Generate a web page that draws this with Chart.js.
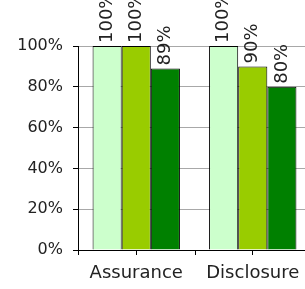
<!DOCTYPE html>
<html>
<head>
<meta charset="utf-8">
<script src="https://cdn.jsdelivr.net/npm/chart.js@4.4.1/dist/chart.umd.min.js"></script>
<style>
  html, body { margin: 0; padding: 0; background: #fff; overflow: hidden; }
  #wrap { width: 311px; height: 289px; }
</style>
</head>
<body>
<div id="wrap"><canvas id="chart" width="311" height="289"></canvas></div>
<script>
const categories = ["Assurance", "Disclosure"];
const seriesNames = ["Series 1", "Series 2", "Series 3"];
const seriesValues = [
  [100, 100],
  [100, 90],
  [89, 80],
];
const seriesColors = ["#CCFFCC", "#99CC00", "#008000"];
const yTicks = [0, 20, 40, 60, 80, 100];

const textColor = "#222";
const gridColor = "#a8a8a8";
const fontFamily = "'DejaVu Sans', sans-serif";

// value labels, rotated, sitting on top of each bar
const barLabels = {
  id: "barLabels",
  afterDatasetsDraw(chart) {
    const ctx = chart.ctx;
    ctx.save();
    ctx.fillStyle = textColor;
    ctx.font = "18px " + fontFamily;
    ctx.textAlign = "left";
    ctx.textBaseline = "middle";
    chart.data.datasets.forEach((ds, i) => {
      chart.getDatasetMeta(i).data.forEach((bar, j) => {
        ctx.save();
        ctx.translate(bar.x, bar.y - 3);
        ctx.rotate(-Math.PI / 2);
        ctx.fillText(ds.data[j] + "%", 0, 0);
        ctx.restore();
      });
    });
    ctx.restore();
  },
};

// tick marks on the category boundaries too (excel style)
const betweenTicks = {
  id: "betweenTicks",
  afterDraw(chart) {
    const x = chart.scales.x;
    const ctx = chart.ctx;
    const half = (x.getPixelForValue(1) - x.getPixelForValue(0)) / 2;
    ctx.save();
    ctx.strokeStyle = "#000";
    ctx.lineWidth = 1;
    for (let i = 0; i <= categories.length; i++) {
      const px = Math.round(x.getPixelForValue(0) - half + i * half * 2) + 0.5;
      ctx.beginPath();
      ctx.moveTo(px, x.top);
      ctx.lineTo(px, x.top + 5);
      ctx.stroke();
    }
    ctx.restore();
  },
};

new Chart(document.getElementById("chart"), {
  type: "bar",
  data: {
    labels: categories,
    datasets: seriesNames.map((name, i) => ({
      label: name,
      data: seriesValues[i],
      backgroundColor: seriesColors[i],
      borderColor: "#000",
      borderWidth: 1,
      categoryPercentage: 0.75,
      barPercentage: 1.0,
    })),
  },
  options: {
    responsive: false,
    animation: false,
    layout: { padding: { top: 46, right: 0, left: 0, bottom: 0 } },
    plugins: {
      legend: { display: false },
      tooltip: { enabled: false },
    },
    scales: {
      x: {
        offset: true,
        afterFit: (s) => { s.height = 39; },
        grid: { offset: false, drawOnChartArea: false, tickLength: 5, tickColor: "#000" },
        border: { color: "#000", width: 1 },
        ticks: { color: textColor, padding: 8, font: { family: fontFamily, size: 18 } },
      },
      y: {
        min: 0,
        max: 100,
        afterFit: (s) => { s.width = 78; },
        afterBuildTicks: (s) => { s.ticks = yTicks.map((v) => ({ value: v })); },
        grid: { color: gridColor, tickColor: "#000", tickLength: 5 },
        border: { color: "#000", width: 1 },
        ticks: {
          color: textColor,
          padding: 10,
          font: { family: fontFamily, size: 16 },
          callback: (v) => v + "%",
        },
      },
    },
  },
  plugins: [barLabels, betweenTicks],
});
</script>
</body>
</html>
